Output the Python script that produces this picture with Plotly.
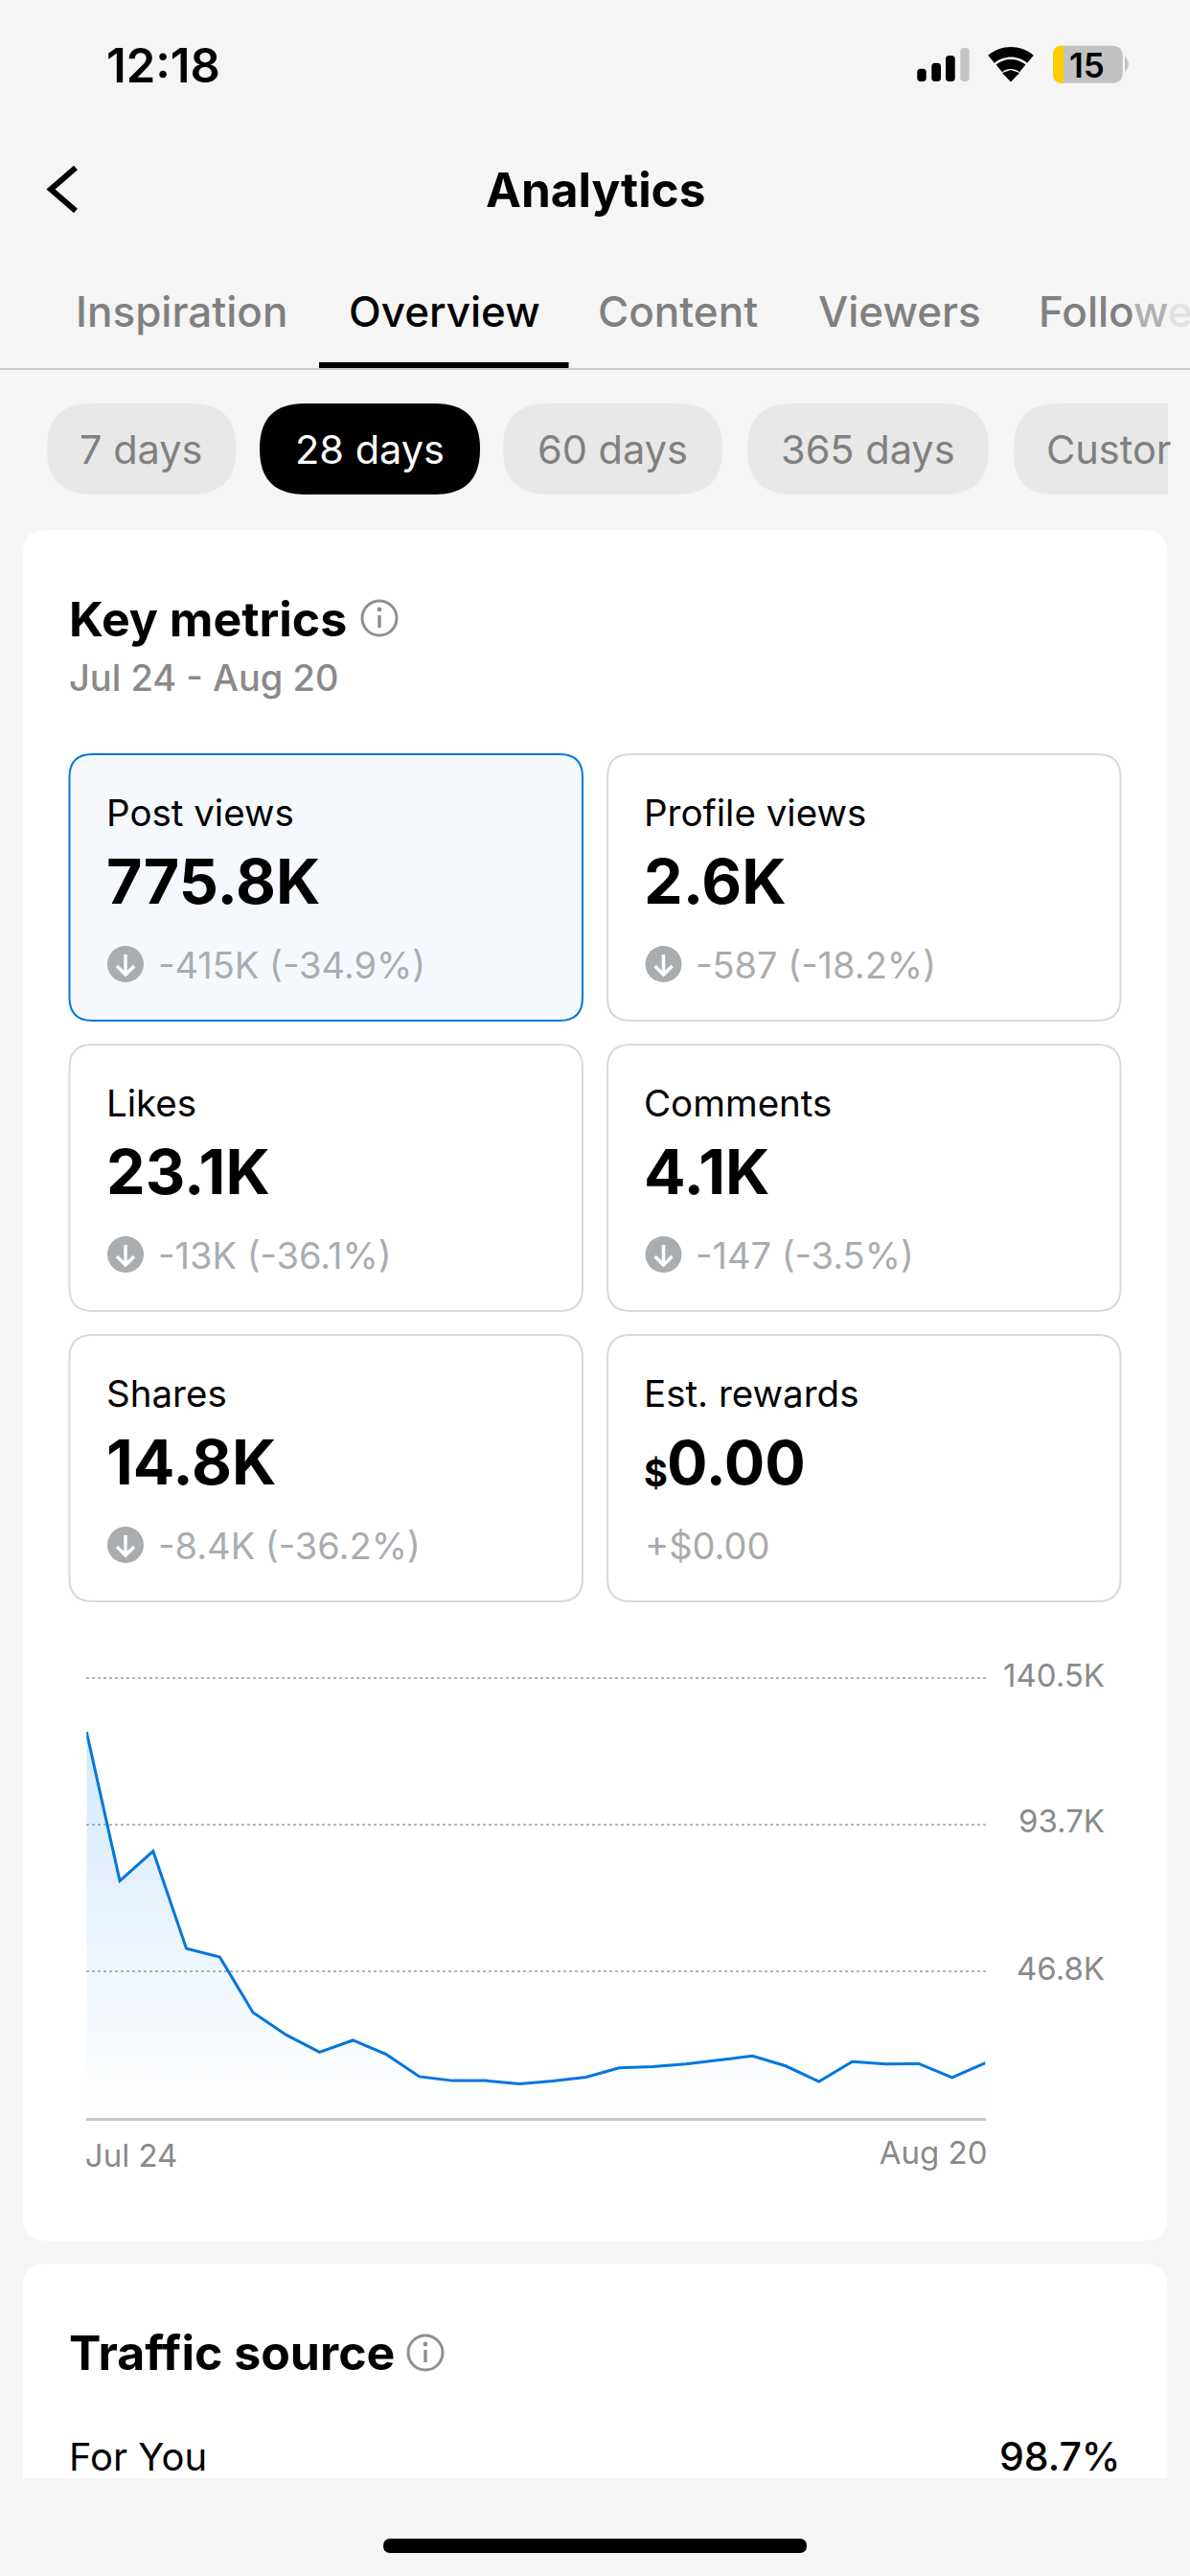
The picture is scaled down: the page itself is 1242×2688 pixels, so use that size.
import math
import plotly.graph_objects as go

W, H = 1242, 2688

# ---------- data ----------
days = ["Jul 24","Jul 25","Jul 26","Jul 27","Jul 28","Jul 29","Jul 30","Jul 31",
        "Aug 1","Aug 2","Aug 3","Aug 4","Aug 5","Aug 6","Aug 7","Aug 8","Aug 9","Aug 10",
        "Aug 11","Aug 12","Aug 13","Aug 14","Aug 15","Aug 16","Aug 17","Aug 18","Aug 19","Aug 20"]
post_views_k = [123.3,75.7,85.2,54.1,51.4,33.7,26.5,21.0,24.8,20.3,13.2,11.9,11.9,10.9,
                11.8,13.0,16.0,16.4,17.2,18.4,19.8,16.6,11.6,18.0,17.2,17.3,12.9,17.6]
y_ticks = [46.8, 93.7, 140.5]
y_tick_labels = ["46.8K", "93.7K", "140.5K"]
tabs = ["Inspiration", "Overview", "Content", "Viewers"]
ranges = ["7 days", "28 days", "60 days", "365 days"]
metric_names = ["Post views", "Profile views", "Likes", "Comments", "Shares", "Est. rewards"]
metric_values = ["775.8K", "2.6K", "23.1K", "4.1K", "14.8K", "0.00"]
metric_deltas = ["-415K (-34.9%)", "-587 (-18.2%)", "-13K (-36.1%)", "-147 (-3.5%)", "-8.4K (-36.2%)", "+$0.00"]

FONT = "Inter"
BLUE = "#0077dd"
GREY = "#8a8a8a"
DELTA = "#a9adb0"

def X(x): return x / W
def Y(y): return 1 - y / H

shapes, annos = [], []

def rrect(x0, y0, x1, y1, r, fill, line=None, lw=0, corners=(1, 1, 1, 1), layer="below"):
    tl, tr, br, bl = [r * c for c in corners]
    def P(x, y): return f"{X(x):.6f},{Y(y):.6f}"
    d = f"M{P(x0+tl,y0)} L{P(x1-tr,y0)} "
    d += f"Q{P(x1,y0)} {P(x1,y0+tr)} " if tr else ""
    d += f"L{P(x1,y1-br)} "
    d += f"Q{P(x1,y1)} {P(x1-br,y1)} " if br else ""
    d += f"L{P(x0+bl,y1)} "
    d += f"Q{P(x0,y1)} {P(x0,y1-bl)} " if bl else ""
    d += f"L{P(x0,y0+tl)} "
    d += f"Q{P(x0,y0)} {P(x0+tl,y0)} " if tl else ""
    d += "Z"
    shapes.append(dict(type="path", path=d, xref="paper", yref="paper", fillcolor=fill,
                       line=dict(color=line or fill, width=lw), layer=layer))

def poly(pts, fill=None, line=None, lw=0, close=True):
    d = "M" + " L".join(f"{X(x):.6f},{Y(y):.6f}" for x, y in pts) + (" Z" if close else "")
    shapes.append(dict(type="path", path=d, xref="paper", yref="paper",
                       fillcolor=fill if fill else "rgba(0,0,0,0)",
                       line=dict(color=line or "rgba(0,0,0,0)", width=lw), layer="below"))

def circle(cx, cy, r, fill=None, line=None, lw=0):
    shapes.append(dict(type="circle", xref="paper", yref="paper",
                       x0=X(cx-r), x1=X(cx+r), y0=Y(cy+r), y1=Y(cy-r),
                       fillcolor=fill if fill else "rgba(0,0,0,0)",
                       line=dict(color=line or "rgba(0,0,0,0)", width=lw), layer="below"))

def text(x, y, s, size, color="#000", weight=400, anchor="left"):
    annos.append(dict(x=X(x), y=Y(y), xref="paper", yref="paper", text=s, showarrow=False,
                      xanchor=anchor, yanchor="middle", align=anchor, borderpad=0, borderwidth=0,
                      font=dict(family=FONT, size=size, color=color, weight=weight)))

def info_icon(cx, cy):
    circle(cx, cy, 18, None, "#8f8f8f", 3)
    poly([(cx, cy-3), (cx, cy+10)], None, "#8f8f8f", 3.5, close=False)
    circle(cx, cy-9, 2.4, "#8f8f8f")

# ---------- status bar ----------
text(111, 68, "12:18", 49, weight=600)
for (x0, x1, top, col) in [(957.3, 966.7, 71.7, "#000"), (972.3, 982, 65.7, "#000"),
                           (987, 996.7, 58, "#000"), (1002.3, 1011.7, 50, "#c4c4c4")]:
    rrect(x0, top, x1, 85, 3.5, col)
wcx, wcy = 1055, 86
for r0, r1 in [(26.5, 37), (14, 24)]:
    a = [math.radians(-90 + t) for t in range(-40, 41, 5)]
    poly([(wcx + r1*math.cos(t), wcy + r1*math.sin(t)) for t in a] +
         [(wcx + r0*math.cos(t), wcy + r0*math.sin(t)) for t in reversed(a)], fill="#000")
poly([(wcx, wcy-0.5), (wcx-9, wcy-10), (wcx, wcy-13), (wcx+9, wcy-10)], fill="#000")
rrect(1099, 47.7, 1171.7, 86.7, 11, "#c2c2c2")
rrect(1099, 47.7, 1110, 86.7, 9, "#ffcc00", corners=(1, 0, 0, 1))
poly([(1174, 59), (1177, 63), (1178, 67), (1177, 71), (1174, 75)], fill="#c2c2c2")
text(1134.5, 68, "15", 35, weight=600, anchor="center")

# ---------- nav ----------
poly([(79, 175), (53, 197.5), (79, 220)], None, "#000", 6, close=False)
text(621, 198, "Analytics", 49.5, weight=700, anchor="center")

tab_x = [79, 364, 624, 854]
for i, (t, x) in enumerate(zip(tabs, tab_x)):
    text(x, 325, t, 44, "#000" if t == "Overview" else "#808080", 500)
text(1084, 325, 'Follo<span style="color:#b0b0b0">w</span><span style="color:#e2e2e2">e</span>',
     44, "#808080", 500)
rrect(0, 384, W, 386, 0, "#cccccc")
rrect(333, 378, 593.5, 384, 0, "#000")

pill_x = [(49, 246.5), (271, 501), (525, 754), (780, 1032)]
for (x0, x1), t in zip(pill_x, ranges):
    on = t == "28 days"
    rrect(x0, 421, x1, 516, 47, "#000" if on else "#e8e8e8")
    text((x0+x1)/2, 469, t, 41.5, "#fff" if on else "#808080", 400, "center")
rrect(1058, 421, 1219, 516, 47, "#e8e8e8", corners=(1, 0, 0, 0.9))
text(1092, 469, "Custor", 41.5, "#808080", 400)

# ---------- white cards ----------
rrect(24, 553, 1218.5, 2338, 24, "#ffffff")
rrect(24, 2362, 1218.5, 2586, 24, "#ffffff", corners=(1, 1, 0, 0))

text(72, 646, "Key metrics", 50, weight=700)
info_icon(396, 645)
text(72, 707, "Jul 24 - Aug 20", 38, GREY, 500)

# ---------- metric tiles ----------
for i, (n, v, d) in enumerate(zip(metric_names, metric_values, metric_deltas)):
    col, row = i % 2, i // 2
    x0 = 72.5 + col * 561.5
    y0 = 787 + row * 303
    sel = i == 0
    rrect(x0, y0, x0 + 535.5, y0 + 278, 24, "#f5f9fe" if sel else "#ffffff",
          BLUE if sel else "#d9d9d9", 2)
    tx = x0 + 38
    text(tx, y0 + 61, n, 38.5, "#000", 400)
    if n == "Est. rewards":
        text(tx, y0 + 144, "$", 38, "#000", 700)
        text(tx + 24, y0 + 133, v, 63, "#000", 700)
        text(tx + 1, y0 + 220, d, 38, "#aaaaaa", 400)
    else:
        text(tx, y0 + 133, v, 64.5, "#000", 700)
        cx, cy = tx + 20.5, y0 + 219
        circle(cx, cy, 19, "#a9adb0")
        poly([(cx, cy-10), (cx, cy+10)], None, "#fff", 3.5, close=False)
        poly([(cx-9, cy+2), (cx, cy+11), (cx+9, cy+2)], None, "#fff", 3.5, close=False)
        text(tx + 54, y0 + 220, d, 38, DELTA, 400)

# ---------- bottom ----------
text(72, 2455, "Traffic source", 50, weight=700)
info_icon(444, 2455)
text(72, 2563, "For You", 40, "#000", 400)
text(1170, 2563, "98.7%", 41, "#000", 500, "right")
rrect(400, 2649, 842, 2664, 7.5, "#000")

# ---------- chart ----------
top_px, bottom_px = 1751, 2210
left, right = 90.3, 1028.5
y_max = 142.0
px_per_k = (bottom_px - top_px) / y_ticks[-1]
plot_top = bottom_px - y_max * px_per_k

fig = go.Figure()
fig.add_trace(go.Scatter(
    x=days, y=post_views_k, mode="none", xaxis="x2", yaxis="y", hoverinfo="skip",
    fill="tozeroy", showlegend=False,
    fillgradient=dict(type="vertical", start=0, stop=post_views_k[0], colorscale=[
        [0, "rgba(0,119,221,0)"], [0.13, "rgba(0,119,221,0.02)"], [1, "rgba(0,119,221,0.17)"]])))
fig.add_trace(go.Scatter(x=days, y=post_views_k, mode="lines", xaxis="x", yaxis="y",
                         line=dict(color=BLUE, width=3, shape="linear"), showlegend=False))

tickfont = dict(family=FONT, size=33, color=GREY)
fig.update_layout(
    width=W, height=H, margin=dict(l=0, r=0, t=0, b=0, pad=0, autoexpand=False), autosize=False,
    paper_bgcolor="#f5f5f5", plot_bgcolor="rgba(0,0,0,0)",
    font=dict(family=FONT), showlegend=False,
    xaxis=dict(domain=[X(left), X(right)], type="category", categoryorder="array", categoryarray=days,
               range=[0, 27], tickmode="array", tickvals=["Jul 24"], ticktext=["Jul 24"],
               ticklabelposition="outside right", ticks="", showgrid=False, zeroline=False, automargin=False,
               showline=True, linecolor="#c8c8c8", linewidth=3, tickfont=tickfont,
               anchor="y", ticklabelstandoff=8, ticklabelshift=-3),
    xaxis2=dict(domain=[X(left), X(right)], type="category", categoryorder="array", categoryarray=days,
                range=[0, 27], overlaying="x", tickmode="array", tickvals=["Aug 20"], ticktext=["Aug 20"],
                ticklabelposition="outside left", ticks="", showgrid=False, zeroline=False, side="bottom",
                automargin=False, showline=False, tickfont=tickfont, anchor="y", ticklabelstandoff=14,
                ticklabelshift=2),
    yaxis=dict(domain=[Y(bottom_px), Y(plot_top)], range=[0, y_max], tickmode="array",
               tickvals=y_ticks, ticktext=y_tick_labels, side="left", anchor="free", automargin=False,
               position=X(1153), ticks="", showline=False, zeroline=False,
               showgrid=True, gridcolor="#b5b5b5", gridwidth=1.5, griddash="3px,3px",
               tickfont=tickfont, ticklabelshift=-3),
    shapes=shapes, annotations=annos,
)
fig.write_html("out.html", config=dict(displayModeBar=False),
               post_script="document.body.style.margin='0';document.body.style.background='#f5f5f5';")
